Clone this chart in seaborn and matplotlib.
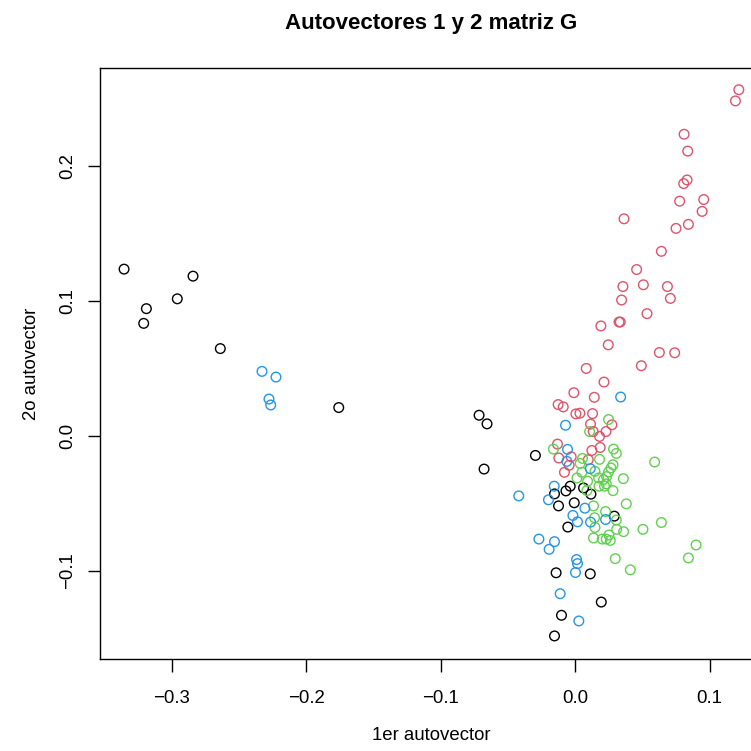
import numpy as np
import pandas as pd
import matplotlib
matplotlib.use("Agg")
import matplotlib.pyplot as plt
import seaborn as sns

# group 1 (black)
g1_x = [-0.3356, -0.2843, -0.296, -0.319, -0.321, -0.264, -0.1759, -0.0715, -0.0656, -0.0678,
        -0.0296, -0.0037, -0.0069, 0.0062, -0.0154, 0.0117, -0.0124, -0.0007, 0.0291, -0.0055,
        -0.0142, 0.0112, 0.0194, -0.0102, -0.0154]
g1_y = [0.1238, 0.1186, 0.1018, 0.0945, 0.0836, 0.0649, 0.0212, 0.0155, 0.0091, -0.0244,
        -0.0143, -0.0371, -0.0406, -0.0384, -0.0428, -0.043, -0.0517, -0.0494, -0.0593, -0.0674,
        -0.1013, -0.1021, -0.123, -0.1328, -0.1481]

# group 2 (red)
g2_x = [0.1217, 0.1192, 0.081, 0.0837, 0.0832, 0.0807, 0.0777, 0.0956, 0.0944, 0.0363,
        0.0842, 0.075, 0.0641, 0.0457, 0.0355, 0.0507, 0.0686, 0.0345, 0.0708, 0.0534,
        0.0326, 0.0335, 0.0191, 0.0246, 0.0626, 0.074, 0.0082, 0.0492,
        0.0214, -0.001, 0.0142, -0.0127, -0.0089, 0.0005, 0.0035, 0.0129, 0.0114, 0.0273,
        0.0134, 0.0229, 0.0181, -0.0132, 0.0186, 0.0124, -0.0122, -0.003, 0.0097, -0.0045, -0.008]
g2_y = [0.2568, 0.2485, 0.2238, 0.2113, 0.1899, 0.1872, 0.1742, 0.1754, 0.1666, 0.1611,
        0.157, 0.154, 0.137, 0.1235, 0.1109, 0.1122, 0.1109, 0.1009, 0.1021, 0.0908,
        0.0846, 0.0846, 0.0817, 0.0677, 0.062, 0.0618, 0.0502, 0.0522,
        0.0401, 0.0322, 0.0288, 0.0234, 0.0217, 0.0165, 0.017, 0.0167, 0.0089, 0.0084,
        0.0034, 0.0034, -0.0002, -0.0059, -0.0084, -0.0106, -0.0162, -0.0153, -0.0175, -0.0216, -0.0268]

# group 3 (green)
g3_x = [0.0248, 0.0107, -0.0162, 0.0285, 0.0306, 0.0181, 0.0054, 0.0037, 0.0591, 0.0281,
        0.0266, 0.0147, 0.0248, 0.005, 0.0233, 0.0013, 0.0174, 0.0358, 0.0211, 0.0092,
        0.0231, 0.0177, 0.0218, 0.0281, 0.0087, 0.0136, 0.038, 0.0226, 0.0144, 0.0306,
        0.0641, 0.0147, 0.0308, 0.0504, 0.036, 0.0251, 0.0136, 0.0201, 0.0231, 0.0261,
        0.0899, 0.0842, 0.0298, 0.041]
g3_y = [0.0123, 0.0034, -0.0096, -0.0096, -0.0128, -0.0172, -0.0165, -0.0202, -0.0192, -0.0212,
        -0.0236, -0.0261, -0.0266, -0.0268, -0.03, -0.031, -0.031, -0.0315, -0.0322, -0.0334,
        -0.0354, -0.0371, -0.0371, -0.0404, -0.0404, -0.0517, -0.0502, -0.0559, -0.0605, -0.0622,
        -0.064, -0.0677, -0.0691, -0.0691, -0.0708, -0.0733, -0.0755, -0.0763, -0.0763, -0.0773,
        -0.0807, -0.0903, -0.0908, -0.0991]

# group 4 (blue)
g4_x = [-0.233, -0.2226, -0.2278, -0.2265, 0.0338, -0.0072, -0.0057, -0.0062, 0.0112, -0.0156,
        -0.042, -0.0199, 0.0072, -0.0017, 0.0017, 0.0114, 0.0226, -0.027, -0.0154, -0.0194,
        0.001, 0.0017, 0.0002, -0.0112, 0.0027]
g4_y = [0.048, 0.0438, 0.0275, 0.0231, 0.029, 0.0081, -0.0098, -0.0187, -0.0241, -0.0371,
        -0.0443, -0.0472, -0.0534, -0.0588, -0.0635, -0.0637, -0.0618, -0.0763, -0.0782, -0.0839,
        -0.0915, -0.0945, -0.1011, -0.1168, -0.137]

groups = ["1", "2", "3", "4"]
colores = ["#000000", "#DF536B", "#61D04F", "#2297E6"]

df = pd.concat([
    pd.DataFrame({"x": g1_x, "y": g1_y, "grupo": "1"}),
    pd.DataFrame({"x": g2_x, "y": g2_y, "grupo": "2"}),
    pd.DataFrame({"x": g3_x, "y": g3_y, "grupo": "3"}),
    pd.DataFrame({"x": g4_x, "y": g4_y, "grupo": "4"}),
], ignore_index=True)

sns.set_style("white")
plt.rcParams["font.family"] = ["Liberation Sans", "DejaVu Sans"]
plt.rcParams["text.color"] = "black"
plt.rcParams["axes.labelcolor"] = "black"

fig = plt.figure(figsize=(7.51, 7.51), dpi=100)
ax = fig.add_axes([100 / 751, 92 / 751, 663 / 751, 591 / 751])

sns.scatterplot(data=df, x="x", y="y", hue="grupo", hue_order=groups,
                palette=dict(zip(groups, colores)), s=48, legend=False, ax=ax)

# open circles like R's pch=1
coll = ax.collections[0]
fc = coll.get_facecolors()
coll.set_edgecolors(fc)
coll.set_facecolors("none")
coll.set_linewidths(1.0)

ax.set_xlim(-0.3535, 0.1397)
ax.set_ylim(-0.1652, 0.2729)
ax.set_xticks([-0.3, -0.2, -0.1, 0.0, 0.1])
ax.set_yticks([-0.1, 0.0, 0.1, 0.2])
ax.set_xticklabels(["\u22120.3", "\u22120.2", "\u22120.1", "0.0", "0.1"])
ax.set_yticklabels(["\u22120.1", "0.0", "0.1", "0.2"], rotation=90, va="center")

for sp in ax.spines.values():
    sp.set_color("black")
    sp.set_linewidth(1.0)

ax.tick_params(axis="both", direction="out", length=9, width=1.0, colors="black",
               labelsize=13.4, bottom=True, left=True)
ax.tick_params(axis="x", pad=13)
ax.tick_params(axis="y", pad=8)

ax.set_xlabel("1er autovector", fontsize=13.4, labelpad=15, color="black")
ax.set_ylabel("2o autovector", fontsize=13.4, labelpad=14, color="black")
ax.set_title("Autovectores 1 y 2 matriz G", fontsize=16, fontweight="bold", pad=28, color="black")

fig.savefig("out.png", dpi=100)
